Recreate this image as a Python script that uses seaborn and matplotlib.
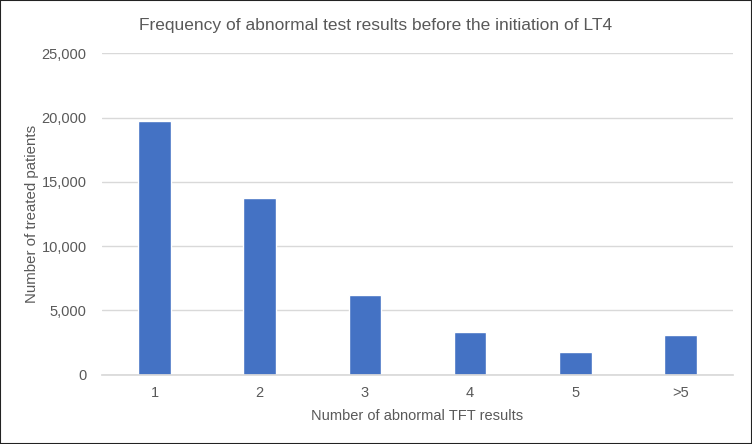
import matplotlib
matplotlib.use("Agg")
import matplotlib.pyplot as plt
import seaborn as sns
import pandas as pd
from matplotlib.ticker import FuncFormatter, MultipleLocator

categories = ["1", "2", "3", "4", "5", ">5"]
patients = [19700, 13700, 6200, 3300, 1780, 3050]

df = pd.DataFrame({"results": categories, "patients": patients})

sns.set_theme(style="white")
plt.rcParams["font.family"] = ["Liberation Sans", "DejaVu Sans"]
grey = "#595959"

fig = plt.figure(figsize=(7.52, 4.44), dpi=100)
ax = fig.add_axes([0.1356, 0.1565, 0.8391, 0.7235])

sns.barplot(data=df, x="results", y="patients", order=categories,
            color="#4472C4", saturation=1, width=0.31, ax=ax)

ax.set_ylim(0, 25000)
ax.yaxis.set_major_locator(MultipleLocator(5000))
ax.yaxis.set_major_formatter(FuncFormatter(lambda v, p: f"{int(v):,}"))
ax.grid(axis="y", color="#d9d9d9", linewidth=1)
ax.set_axisbelow(True)
for s in ["top", "right", "left"]:
    ax.spines[s].set_visible(False)
ax.spines["bottom"].set_color("#d9d9d9")
ax.tick_params(axis="both", length=0, labelsize=10.5, colors=grey, pad=8)
ax.tick_params(axis="y", pad=11)

ax.set_xlabel("Number of abnormal TFT results", fontsize=10.5, color=grey, labelpad=7)
ax.set_ylabel("Number of treated patients", fontsize=10.8, color=grey, labelpad=2)
fig.suptitle("Frequency of abnormal test results before the initiation of LT4",
             x=0.5, y=0.96, fontsize=12.5, color=grey)

fig.patches.append(plt.Rectangle((0, 0), 1, 1, transform=fig.transFigure,
                                 fill=False, edgecolor="#222222", linewidth=1.5))

fig.savefig("out.png", dpi=100)
